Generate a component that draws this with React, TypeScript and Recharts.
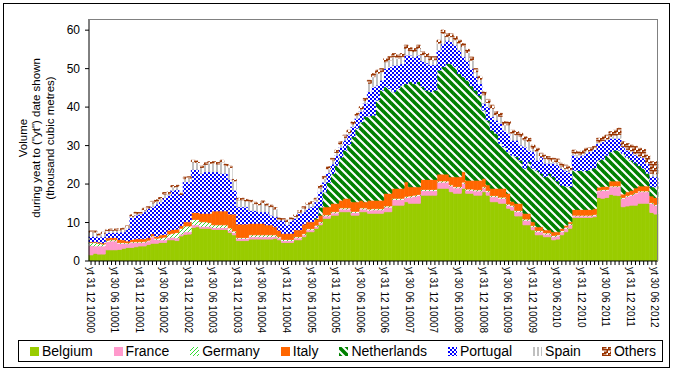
import React from 'react';
import { BarChart, Bar, XAxis, YAxis } from 'recharts';

// monthly values, Dec 2000 .. Jun 2012 (139 months), thousand m3
const belgium = [
  1.6, 2.0, 1.8, 1.8, 2.9, 2.9, 2.9, 3.0, 3.3, 3.5,
  3.5, 3.7, 3.9, 3.9, 4.3, 4.6, 4.6, 4.8, 4.8, 5.5,
  5.5, 5.3, 6.5, 6.9, 7.0, 8.7, 8.9, 8.5, 8.5, 8.5,
  8.2, 8.2, 8.2, 8.2, 7.4, 6.8, 5.3, 5.3, 5.3, 5.7,
  5.7, 5.7, 5.7, 5.7, 5.7, 5.9, 5.5, 4.8, 4.8, 4.8,
  5.5, 5.5, 6.3, 7.6, 7.6, 8.5, 9.4, 11.1, 11.1, 11.9,
  11.9, 12.8, 12.8, 12.8, 11.9, 11.9, 12.8, 12.8, 12.4, 12.4,
  12.4, 12.4, 12.8, 12.8, 14.5, 14.5, 14.5, 15.4, 15.0, 15.0,
  15.0, 17.1, 17.1, 17.1, 17.1, 18.9, 18.9, 18.9, 18.0, 17.6,
  17.6, 18.9, 17.6, 17.6, 17.1, 17.1, 18.0, 17.1, 15.4, 15.4,
  15.0, 15.0, 13.7, 13.2, 11.7, 11.7, 9.4, 9.4, 8.1, 6.8,
  6.8, 6.3, 6.3, 5.5, 5.7, 6.8, 7.6, 8.5, 11.3, 11.3,
  11.3, 11.3, 11.3, 11.5, 16.5, 16.3, 16.5, 17.3, 17.1, 17.0,
  14.1, 14.3, 14.5, 14.5, 15.0, 15.0, 15.0, 12.6, 12.2,
];
const france = [
  2.4, 1.9, 2.1, 2.1, 2.2, 2.3, 2.3, 1.6, 1.3, 1.0,
  1.3, 1.1, 0.9, 1.0, 0.9, 1.7, 1.0, 0.7, 0.7, 0.6,
  0.7, 0.7, 0.5, 0.7, 0.6, 0.7, 0.5, 0.5, 0.5, 0.5,
  0.5, 0.5, 0.5, 0.5, 0.5, 0.6, 0.6, 0.6, 0.6, 0.6,
  0.6, 0.6, 0.6, 0.6, 0.6, 0.5, 0.5, 0.5, 0.5, 0.5,
  0.5, 0.5, 0.5, 0.5, 0.5, 0.5, 0.5, 0.6, 0.6, 0.6,
  0.6, 0.7, 0.7, 0.7, 0.7, 0.7, 0.7, 0.7, 0.8, 0.9,
  0.9, 0.9, 1.2, 1.2, 1.5, 1.5, 1.5, 1.1, 1.6, 1.8,
  2.0, 1.2, 1.2, 1.2, 1.2, 1.6, 1.6, 1.6, 1.5, 1.4,
  1.4, 1.3, 0.8, 0.8, 1.1, 1.1, 1.0, 0.9, 1.3, 1.3,
  1.3, 1.3, 0.8, 1.0, 1.1, 1.1, 1.2, 1.2, 0.8, 0.8,
  0.8, 0.7, 0.7, 0.8, 0.8, 0.8, 0.9, 0.9, 0.4, 0.4,
  0.4, 0.4, 0.4, 0.4, 1.7, 2.1, 1.9, 2.0, 2.2, 2.3,
  2.2, 2.5, 2.6, 3.0, 3.0, 3.0, 3.0, 2.4, 2.3,
];
const germany = [
  0.8, 0.9, 0.7, 0.5, 0.3, 0.3, 0.3, 0.2, 0.2, 0.2,
  0.2, 0.2, 0.2, 0.2, 0.2, 0.2, 0.3, 0.5, 0.7, 0.9,
  1.0, 1.4, 1.5, 1.5, 1.5, 1.4, 1.4, 1.2, 1.2, 1.0,
  0.7, 0.7, 0.7, 0.7, 0.7, 0.4, 0.2, 0.2, 0.2, 0.5,
  0.5, 0.5, 0.5, 0.5, 0.5, 0.4, 0.3, 0.3, 0.3, 0.3,
  0.3, 0.3, 0.3, 0.3, 0.3, 0.3, 0.3, 0.3, 0.3, 0.3,
  0.3, 0.3, 0.3, 0.3, 0.3, 0.3, 0.3, 0.3, 0.3, 0.3,
  0.3, 0.3, 0.3, 0.3, 0.3, 0.3, 0.3, 0.3, 0.3, 0.3,
  0.3, 0.3, 0.3, 0.3, 0.3, 0.3, 0.3, 0.3, 0.3, 0.3,
  0.3, 0.3, 0.3, 0.3, 0.3, 0.3, 0.3, 0.3, 0.3, 0.3,
  0.3, 0.3, 0.3, 0.3, 0.3, 0.3, 0.3, 0.3, 0.3, 0.3,
  0.3, 0.3, 0.3, 0.3, 0.3, 0.3, 0.3, 0.3, 0.2, 0.2,
  0.2, 0.2, 0.2, 0.2, 0.2, 0.2, 0.2, 0.2, 0.2, 0.2,
  0.2, 0.2, 0.2, 0.2, 0.2, 0.2, 0.2, 0.2, 0.2,
];
const italy = [
  0.2, 0.2, 0.3, 0.3, 0.6, 0.6, 0.6, 0.8, 0.7, 0.5,
  0.6, 0.8, 0.8, 0.7, 0.7, 0.6, 0.5, 0.8, 0.7, 1.0,
  1.0, 0.9, 0.7, 1.1, 1.1, 1.8, 1.8, 2.2, 2.2, 2.4,
  3.6, 3.6, 3.6, 3.6, 3.6, 4.4, 3.5, 3.5, 3.5, 3.0,
  3.0, 3.0, 3.0, 2.6, 2.6, 2.1, 1.7, 1.6, 1.6, 1.6,
  1.8, 1.8, 2.5, 1.8, 1.8, 1.6, 1.7, 2.1, 2.1, 2.2,
  2.2, 2.0, 2.5, 2.5, 2.5, 2.5, 2.0, 1.6, 2.3, 2.2,
  2.2, 2.2, 3.3, 3.3, 2.6, 2.6, 2.6, 3.8, 2.4, 2.2,
  2.0, 2.6, 2.6, 2.6, 2.6, 1.8, 1.8, 1.8, 2.1, 2.6,
  2.6, 2.7, 2.3, 2.3, 2.5, 2.5, 2.2, 1.5, 1.9, 1.9,
  2.3, 2.3, 2.8, 1.0, 1.9, 1.9, 1.5, 1.5, 1.0, 1.0,
  1.0, 0.8, 0.8, 1.0, 0.8, 0.6, 0.5, 0.5, 1.5, 1.5,
  1.5, 1.5, 1.5, 1.5, 0.8, 0.8, 0.8, 1.3, 1.3, 1.3,
  0.9, 1.0, 1.1, 1.3, 1.3, 1.3, 1.3, 1.7, 1.8,
];
const netherlands = [
  0, 0, 0, 0, 0, 0, 0, 0, 0, 0,
  0, 0, 0, 0, 0, 0, 0, 0, 0, 0,
  0, 0, 0, 0, 0, 0, 0, 0, 0, 0,
  0, 0, 0, 0, 0, 0, 0, 0, 0, 0,
  0, 0, 0, 0, 0, 0, 0, 0, 0, 0,
  0, 0, 0, 0, 0, 0.3, 2.1, 3.9, 6.3, 7.7,
  9.9, 11.2, 12.5, 14.0, 16.9, 19.1, 20.3, 22.1, 21.9, 22.1,
  26.0, 28.6, 27.7, 27.2, 25.1, 25.9, 26.8, 25.5, 27.3, 26.8,
  27.3, 24.1, 23.2, 22.8, 23.2, 27.0, 27.9, 28.7, 29.4, 28.6,
  26.8, 24.7, 26.0, 24.5, 23.4, 22.1, 17.7, 16.8, 15.1, 14.3,
  11.7, 10.8, 10.8, 12.0, 12.1, 11.2, 11.7, 13.4, 13.9, 14.7,
  13.9, 13.8, 14.7, 14.3, 13.2, 11.2, 10.2, 9.1, 10.2, 10.1,
  10.1, 10.1, 10.4, 10.6, 7.0, 7.1, 8.1, 7.6, 8.0, 8.0,
  10.6, 9.0, 7.8, 6.5, 5.3, 4.6, 3.3, 2.4, 2.8,
];
const portugal = [
  1.4, 1.4, 1.3, 1.6, 1.4, 1.3, 1.3, 1.9, 2.1, 3.3,
  5.7, 6.1, 6.4, 7.0, 7.6, 7.0, 8.4, 8.6, 9.6, 9.1,
  10.2, 10.3, 8.1, 10.4, 10.4, 11.2, 11.2, 10.4, 10.8, 10.8,
  10.2, 10.2, 9.8, 9.8, 9.0, 6.2, 4.5, 4.5, 4.5, 3.3,
  3.3, 3.0, 3.0, 3.4, 2.5, 2.6, 2.6, 3.4, 2.2, 3.4,
  3.0, 4.3, 3.2, 3.5, 3.9, 4.2, 4.0, 2.5, 2.5, 2.5,
  2.5, 2.5, 2.6, 2.6, 2.6, 2.6, 2.8, 3.5, 6.3, 7.4,
  3.9, 2.6, 4.7, 5.7, 6.9, 6.1, 5.6, 7.4, 6.9, 6.9,
  6.9, 6.7, 7.1, 7.0, 6.6, 5.2, 6.0, 6.1, 5.7, 5.6,
  6.1, 5.2, 5.0, 4.5, 3.6, 3.0, 1.8, 3.5, 3.5, 3.4,
  5.2, 4.3, 4.8, 3.9, 4.3, 3.9, 5.6, 3.0, 4.3, 2.6,
  4.3, 3.5, 2.6, 3.5, 4.2, 4.3, 4.0, 3.7, 3.9, 3.5,
  4.0, 4.5, 4.7, 4.8, 4.3, 4.5, 4.0, 3.5, 3.1, 3.1,
  1.7, 1.8, 2.2, 2.1, 2.3, 2.7, 2.5, 2.7, 2.6,
];
const spain = [
  1.1, 1.1, 0.5, 0.9, 0.5, 0.6, 0.6, 0.6, 0.6, 0.4,
  0.3, 0.4, 0.1, 0.5, 0.1, 1.0, 0.7, 0.7, 0.9, 0.4,
  0.8, 0.7, 0.0, 0.8, 0.9, 2.0, 1.8, 1.5, 1.9, 2.2,
  2.2, 2.0, 3.0, 2.0, 3.1, 2.4, 1.8, 1.8, 1.5, 2.3,
  1.8, 1.8, 2.4, 1.6, 2.2, 2.0, 0.2, 0.0, 0.8, 0.3,
  0.5, 0.3, 0.9, 1.1, 0.9, 0.5, 1.0, 0.9, 1.0, 0.9,
  0.8, 0.9, 0.7, 0.5, 0.7, 0.7, 0.6, 0.7, 2.2, 2.6,
  3.1, 2.2, 1.8, 1.8, 2.2, 1.8, 1.8, 1.8, 1.1, 1.4,
  1.8, 1.6, 1.6, 1.3, 1.3, 1.8, 2.7, 0.9, 1.3, 1.4,
  1.8, 2.6, 2.2, 2.2, 1.2, 1.1, 2.2, 1.1, 2.2, 1.4,
  1.8, 1.4, 2.2, 1.8, 1.4, 2.3, 1.8, 2.3, 0.9, 2.3,
  0.1, 1.3, 0.9, 0.5, 0.7, 0.6, 0.6, 0.7, 0.5, 0.6,
  0.3, 0.5, 0.2, 0.2, 0.4, 0.3, 0.2, 0.5, 0.7, 1.0,
  0.1, 0.2, 0.2, 0.3, 0.2, 0.2, 0.2, 0.8, 0.8,
];
const others = [
  0.3, 0.3, 0.3, 0.3, 0.3, 0.3, 0.3, 0.3, 0.3, 0.3,
  0.4, 0.4, 0.3, 0.4, 0.3, 0.4, 0.4, 0.4, 0.4, 0.4,
  0.4, 0.4, 0.3, 0.4, 0.4, 0.4, 0.4, 0.4, 0.4, 0.4,
  0.4, 0.4, 0.4, 0.4, 0.4, 0.4, 0.4, 0.4, 0.4, 0.4,
  0.4, 0.4, 0.4, 0.4, 0.4, 0.4, 0.4, 0.4, 0.4, 0.4,
  0.4, 0.4, 0.4, 0.4, 0.4, 0.4, 0.6, 0.6, 0.6, 0.6,
  0.6, 0.6, 0.6, 0.6, 0.6, 0.6, 0.6, 0.6, 0.8, 0.8,
  0.8, 0.8, 0.8, 0.8, 0.8, 0.8, 0.8, 0.8, 0.8, 0.8,
  0.8, 0.8, 0.8, 0.8, 0.8, 0.8, 0.8, 0.8, 0.8, 0.8,
  0.8, 0.8, 0.8, 0.8, 0.8, 0.8, 0.8, 0.8, 0.8, 0.8,
  0.8, 0.8, 0.8, 0.8, 0.8, 0.8, 0.8, 0.8, 0.8, 0.8,
  0.8, 0.8, 0.8, 0.8, 0.8, 0.8, 0.8, 0.8, 0.8, 0.8,
  0.8, 0.8, 0.8, 0.6, 1.0, 1.0, 1.0, 1.2, 1.4, 1.6,
  1.2, 1.5, 1.5, 1.9, 2.0, 2.0, 2.0, 3.0, 3.1,
];

// one label every 6 months
const tickLabels = [
  'yt 31 12 10000', 'yt 30 06 10001', 'yt 31 12 10001', 'yt 30 06 10002',
  'yt 31 12 10002', 'yt 30 06 10003', 'yt 31 12 10003', 'yt 30 06 10004',
  'yt 31 12 10004', 'yt 30 06 10005', 'yt 31 12 10005', 'yt 30 06 10006',
  'yt 31 12 10006', 'yt 30 06 10007', 'yt 31 12 10007', 'yt 30 06 10008',
  'yt 31 12 10008', 'yt 30 06 10009', 'yt 31 12 10009', 'yt 30 06 2010',
  'yt 31 12 2010', 'yt 30 06 2011', 'yt 31 12 2011', 'yt 30 06 2012',
];

const yTicks = [0, 10, 20, 30, 40, 50, 60];

const series = [
  { key: 'Belgium', fill: '#99cc00' },
  { key: 'France', fill: '#ff99cc' },
  { key: 'Germany', fill: 'url(#pGermany)' },
  { key: 'Italy', fill: '#ff6600' },
  { key: 'Netherlands', fill: 'url(#pNeth)' },
  { key: 'Portugal', fill: 'url(#pPort)' },
  { key: 'Spain', fill: 'url(#pSpain)' },
  { key: 'Others', fill: 'url(#pOthers)' },
];

const data = belgium.map((v, i) => ({
  month: i,
  Belgium: v,
  France: france[i],
  Germany: germany[i],
  Italy: italy[i],
  Netherlands: netherlands[i],
  Portugal: portugal[i],
  Spain: spain[i],
  Others: others[i],
}));

const FONT = 'Arial, "Liberation Sans", sans-serif';

const MonthTick = (props: any) => {
  const { x, y } = props;
  const index = props.index ?? props.payload?.index ?? 0;
  if (index % 6 !== 0) return <g />;
  return (
    <g transform={`translate(${x - 1},${y})`}>
      <text transform="rotate(90)" x={0} y={0} dy="0.35em" textAnchor="start" fontSize={10} fill="#000" fontFamily={FONT}>
        {tickLabels[index / 6]}
      </text>
    </g>
  );
};

const YTitle = () => (
  <g fontFamily={FONT} fontSize={11.5} fill="#000">
    <text transform="translate(27,138) rotate(-90)" textAnchor="middle">Volume</text>
    <text transform="translate(40,138) rotate(-90)" textAnchor="middle">during yeat to ("yt") date shown</text>
    <text transform="translate(54,138) rotate(-90)" textAnchor="middle">(thousand cubic metres)</text>
  </g>
);

const Patterns = () => (
  <svg width={0} height={0} style={{ position: 'absolute' }}>
    <defs>
      <pattern id="pGermany" width="4" height="4" patternUnits="userSpaceOnUse">
        <rect width="4" height="4" fill="#fff" />
        <path d="M-1,1 L1,-1 M0,4 L4,0 M3,5 L5,3" stroke="#33dd33" strokeWidth="1" />
      </pattern>
      <pattern id="pNeth" width="8" height="8" patternUnits="userSpaceOnUse">
        <rect width="8" height="8" fill="#fff" />
        <path d="M-2,-2 L10,10 M-2,6 L2,10 M6,-2 L10,2" stroke="#008000" strokeWidth="3.6" />
      </pattern>
      <pattern id="pPort" width="4" height="4" patternUnits="userSpaceOnUse">
        <rect width="4" height="4" fill="#fff" />
        <rect x="0" y="0" width="2" height="2" fill="#0000ff" />
        <rect x="2" y="2" width="2" height="2" fill="#0000ff" />
      </pattern>
      <pattern id="pSpain" width="4" height="4" patternUnits="userSpaceOnUse">
        <rect width="4" height="4" fill="#fff" />
        <rect x="0" y="0" width="2" height="4" fill="#c0c0c0" />
      </pattern>
      <pattern id="pOthers" width="6" height="6" patternUnits="userSpaceOnUse">
        <rect width="6" height="6" fill="#fff" />
        <path d="M0,0.75 H4.5 M0.75,0 V3 M0,2.75 H6 M5.25,2.5 V5.5 M2,5.25 H6" stroke="#993300" strokeWidth="1.5" />
      </pattern>
    </defs>
  </svg>
);

const LegendBox = () => (
  <div
    style={{
      position: 'absolute', left: 18, top: 340, width: 645, height: 22, boxSizing: 'border-box',
      border: '1px solid #000', display: 'flex', alignItems: 'center', justifyContent: 'space-between',
      paddingLeft: 11, paddingRight: 6, fontFamily: FONT, fontSize: 14, color: '#000',
    }}
  >
    {series.map((s) => (
      <div key={s.key} style={{ display: 'flex', alignItems: 'center' }}>
        <svg width={9} height={9} style={{ marginRight: 3 }}>
          <rect width={9} height={9} fill={s.fill} />
        </svg>
        <span>{s.key}</span>
      </div>
    ))}
  </div>
);

const App: React.FC = () => {
  return (
    <div style={{ position: 'absolute', left: 0, top: 0, width: 673, height: 371, background: '#fff', overflow: 'hidden' }}>
      <Patterns />
      <BarChart
        width={673}
        height={371}
        data={data}
        margin={{ top: 19, right: 15, bottom: 40, left: 0 }}
        barCategoryGap={0}
        barGap={0}
      >
        <XAxis
          dataKey="month"
          interval={0}
          tick={(p: any) => <MonthTick {...p} />}
          tickSize={4}
          height={70}
          axisLine={{ stroke: '#000' }}
          tickLine={{ stroke: '#000' }}
        />
        <YAxis
          width={89}
          domain={[0, 62.9]}
          ticks={yTicks}
          tickSize={4}
          tickMargin={5}
          allowDataOverflow
          axisLine={{ stroke: '#000' }}
          tickLine={{ stroke: '#000' }}
          tick={{ fontSize: 12, fill: '#000', fontFamily: FONT }}
          label={{ content: () => <YTitle /> }}
        />
        {series.map((s) => (
          <Bar
            key={s.key}
            dataKey={s.key}
            stackId="a"
            fill={s.fill}
            stroke={s.fill}
            strokeWidth={0.8}
            isAnimationActive={false}
          />
        ))}
      </BarChart>
      <div
        style={{
          position: 'absolute', left: 89, top: 19, width: 569, height: 242, boxSizing: 'border-box',
          borderTop: '1px solid #808080', borderRight: '1px solid #808080', pointerEvents: 'none',
        }}
      />
      <div
        style={{
          position: 'absolute', left: 3, top: 3, width: 667, height: 365, boxSizing: 'border-box',
          border: '1px solid #000', pointerEvents: 'none',
        }}
      />
      <LegendBox />
    </div>
  );
};

export default App;
